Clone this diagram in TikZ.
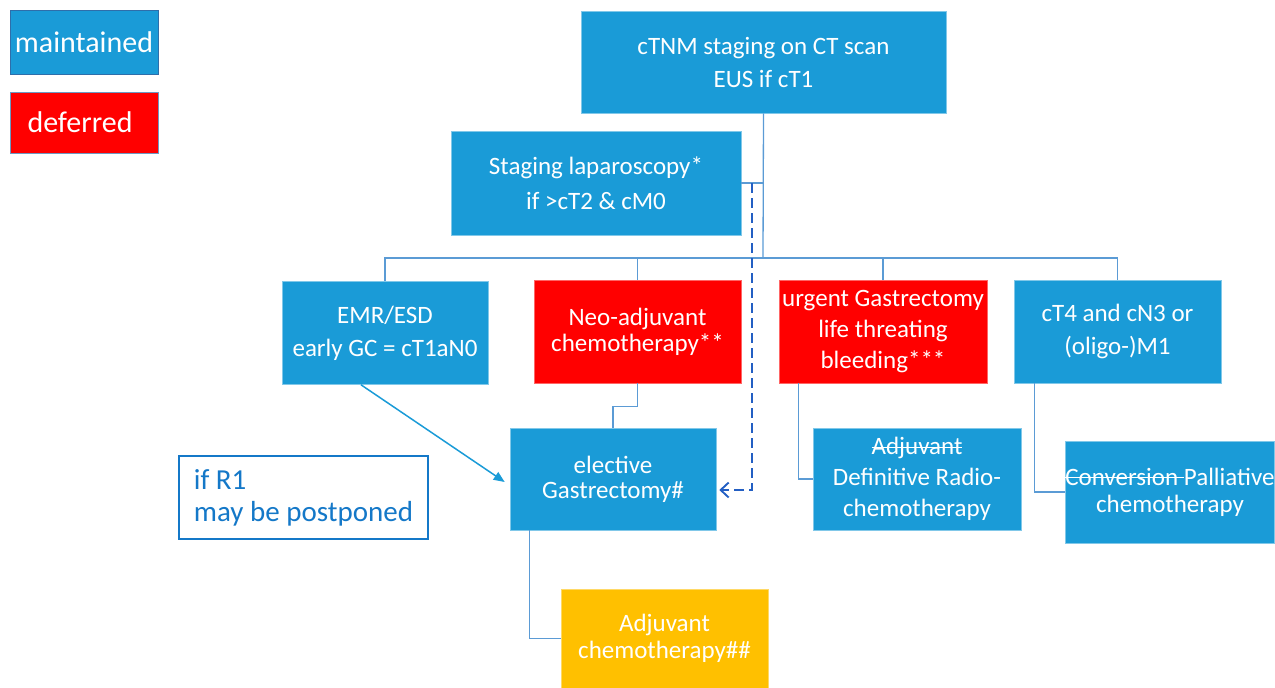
\documentclass[tikz,border=0pt]{standalone}
\usepackage{fontspec}
\setmainfont{Carlito}
\usetikzlibrary{arrows.meta}
\newcommand{\mystrike}[1]{\setbox0\hbox{#1}\rlap{\rule[0.27em]{\wd0}{1.3pt}}\box0}
\definecolor{mblue}{RGB}{26,155,215}
\definecolor{dred}{RGB}{255,0,0}
\definecolor{morange}{RGB}{255,192,0}
\definecolor{rblue}{RGB}{20,120,200}
\definecolor{lblue}{RGB}{91,155,213}
\definecolor{dashblue}{RGB}{35,95,195}
\definecolor{legborder}{RGB}{46,110,170}
\begin{document}
\begin{tikzpicture}[x=1pt,y=-1pt,
  box/.style={rectangle, fill=mblue, draw=mblue!55!white, line width=0.6pt, text=white, align=center, inner sep=0pt, font=\fontsize{25}{33}\selectfont},
  sz/.style 2 args={minimum width=#1pt, minimum height=#2pt},
  redbox/.style={box, fill=dred, draw=dred!60!white},
  orbox/.style={box, fill=morange, draw=morange!60!white},
  conn/.style={draw=lblue, line width=1.3pt},
  dashconn/.style={draw=dashblue, line width=1.9pt, dash pattern=on 10pt off 5pt, -{Straight Barb[length=8pt,width=15pt]}},
  arr/.style={draw=mblue, line width=1.5pt, -{Triangle[length=11pt,width=9pt]}}
]
\useasboundingbox (0,0) rectangle (1275,688);
% legend
\node[box, sz={148}{64}, draw=legborder, font=\fontsize{30}{33}\selectfont] (maint) at (84,42) {maintained};
\node[redbox, sz={148}{61}, draw=legborder!70!white, font=\fontsize{30}{33}\selectfont] (defer) at (84,122.5) {\hspace*{-8pt}deferred};
% main boxes
\node[box, sz={365}{102}] (top) at (763.5,62) {cTNM staging on CT scan\\EUS if cT1};
\node[box, sz={290}{104}, font=\fontsize{25}{35}\selectfont] (stag) at (596,183) {Staging laparoscopy*\\if >cT2 \& cM0};
\node[box, sz={206}{103}] (emr) at (385,333) {EMR/ESD\\early GC = cT1aN0};
\node[redbox, sz={207}{103}, font=\fontsize{25}{26}\selectfont] (neo) at (637.5,331.5) {Neo-adjuvant\\chemotherapy**};
\node[redbox, sz={208}{103}, font=\fontsize{25}{31}\selectfont] (urg) at (883,331.5) {urgent Gastrectomy\\life threating\\bleeding***};
\node[box, sz={207}{103}] (ct4) at (1117.5,331.5) {cT4 and cN3 or\\(oligo-)M1};
\node[box, sz={206}{102}, font=\fontsize{25}{25}\selectfont] (elec) at (613,479) {elective\\Gastrectomy\#};
\node[box, sz={208}{102}, font=\fontsize{25}{31}\selectfont] (defin) at (917,479) {\mystrike{Adjuvant}\\Definitive Radio-\\chemotherapy};
\node[box, sz={208}{102}, font=\fontsize{25}{27}\selectfont] (pall) at (1170,492) {\mystrike{Conversion\ }Palliative\\chemotherapy};
\node[orbox, sz={207}{99}, font=\fontsize{25}{27}\selectfont] (adj) at (664.5,638.5) {Adjuvant\\chemotherapy\#\#};
\node[draw=rblue, line width=1.3pt, fill=white, text=rblue, align=left, inner sep=0pt, sz={249}{83}, font=\fontsize{29}{32}\selectfont] (r1) at (303.5,497.5) {if R1\\may be postponed};
% connectors
\coordinate (bus) at (763,258);
\coordinate (dturn) at (752,490);
\draw[conn] (top.south) -- (bus);
\draw[conn] (stag.east) -- (stag.east -| bus);
\draw[conn] (emr.north) -- (emr.north |- bus) -- (ct4.north |- bus) -- (ct4.north);
\draw[conn] (neo.north) -- (neo.north |- bus);
\draw[conn] (urg.north) -- (urg.north |- bus);
\draw[conn] (neo.south) -- ++(0,23) -| (elec.north);
\draw[conn] ([xshift=20pt]urg.south west) |- (defin.west);
\draw[conn] ([xshift=21pt]ct4.south west) |- (pall.west);
\draw[conn] ([xshift=20pt]elec.south west) |- (adj.west);
\draw[dashconn] (stag.east -| dturn) -- (dturn) -- ([xshift=3pt]elec.east |- dturn);
\draw[arr] ([xshift=-24pt]emr.south) -- ([xshift=-5pt,yshift=-3pt]elec.west);
\end{tikzpicture}
\end{document}
